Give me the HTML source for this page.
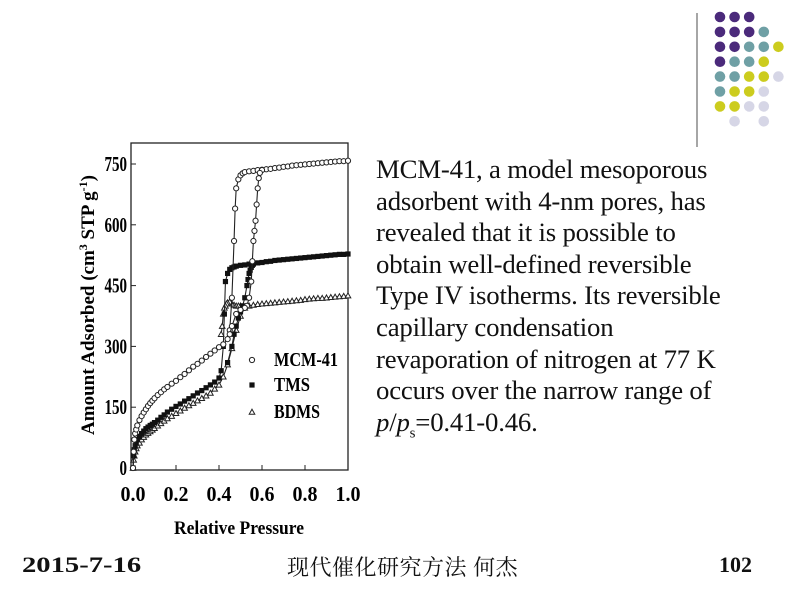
<!DOCTYPE html>
<html><head><meta charset="utf-8">
<style>
html,body{margin:0;padding:0;background:#fff;}
#slide{position:relative;width:800px;height:600px;overflow:hidden;background:#fff;font-family:"Liberation Serif","Noto Serif CJK SC",serif;}
.para{position:absolute;left:376px;top:154px;font-size:26.8px;line-height:31.6px;color:#111;white-space:nowrap;letter-spacing:-0.2px;}
.foot{position:absolute;top:552px;font-size:22px;font-weight:bold;color:#111;}
</style></head>
<body>
<div id="slide">
<svg id="deco" width="800" height="160" style="position:absolute;left:0;top:0"></svg>
<svg id="chart" width="370" height="545" style="position:absolute;left:0;top:0"></svg>
<div class="para">MCM-41, a model mesoporous<br>adsorbent with 4-nm pores, has<br>revealed that it is possible to<br>obtain well-defined reversible<br>Type IV isotherms. Its reversible<br>capillary condensation<br>revaporation of nitrogen at 77 K<br>occurs over the narrow range of<br><i>p</i>/<i>p</i><sub style="font-size:15px">s</sub>=0.41-0.46.</div>
<div class="foot" style="left:22px;transform:scaleX(1.3);transform-origin:0 0">2015-7-16</div>
<div class="foot" style="left:287px;font-weight:normal;font-family:'Noto Serif CJK SC','Noto Sans CJK SC',serif;font-size:22px;letter-spacing:0.5px;top:551px">现代催化研究方法 何杰</div>
<div class="foot" style="left:719px">102</div>
</div>
<script>
const dotRows=["PPP","PPPT","PPTTY","PTTY","TTYYL","TYYL","YYLL"," L L"];
const dotColors={P:"#4b2a7b",T:"#6fa0a5",Y:"#cccc1e",L:"#d6d6e6"};
const deco=document.getElementById('deco');
const NS="http://www.w3.org/2000/svg";
function mk(tag,attrs,parent){const e=document.createElementNS(NS,tag);for(const k in attrs)e.setAttribute(k,attrs[k]);parent.appendChild(e);return e;}
const vl=mk('line',{x1:697,y1:13,x2:697,y2:147,stroke:'#888','stroke-width':1.5},deco);


dotRows.forEach((row,r)=>{[...row].forEach((c,k)=>{if(c===' ')return;
 const d=mk('circle',{cx:720+k*14.6,cy:17+r*14.9,r:5.3,fill:dotColors[c]},deco);
 
 });});

const xTicks=[0,0.2,0.4,0.6,0.8,1.0];
const yTicks=[0,150,300,450,600,750];
const mcmAdsX=[0,0.003,0.006,0.01,0.015,0.02,0.03,0.04,0.05,0.06,0.07,0.08,0.09,0.1,0.115,0.13,0.145,0.16,0.18,0.2,0.22,0.24,0.26,0.28,0.3,0.32,0.34,0.36,0.38,0.4,0.42,0.44,0.45,0.46,0.47,0.475,0.48,0.49,0.5,0.51,0.52,0.54,0.56,0.58,0.6,0.62,0.64,0.66,0.68,0.7,0.72,0.74,0.76,0.78,0.8,0.82,0.84,0.86,0.88,0.9,0.92,0.94,0.96,0.98,1.0];
const mcmAdsY=[0,40,70,85,95,105,118,128,137,145,153,160,166,172,180,187,194,200,208,215,224,232,241,250,257,265,274,282,290,298,305,318,340,420,560,640,690,712,722,727,730,732,733,735,736,737,738,740,741,743,744,746,747,748,749,750,751,752,753,754,755,756,757,757,758];
const mcmDesX=[0.6,0.59,0.585,0.58,0.575,0.57,0.565,0.56,0.555,0.55,0.54,0.53,0.52,0.5,0.48,0.46,0.45];
const mcmDesY=[735,728,715,690,650,610,585,560,510,460,420,400,395,390,380,350,330];
const tmsAdsX=[0,0.003,0.006,0.01,0.015,0.02,0.03,0.04,0.05,0.06,0.07,0.08,0.09,0.1,0.115,0.13,0.145,0.16,0.18,0.2,0.22,0.24,0.26,0.28,0.3,0.32,0.34,0.36,0.38,0.4,0.41,0.42,0.425,0.43,0.44,0.45,0.46,0.47,0.48,0.5,0.52,0.54,0.56,0.58,0.6,0.62,0.64,0.66,0.68,0.7,0.72,0.74,0.76,0.78,0.8,0.82,0.84,0.86,0.88,0.9,0.92,0.94,0.96,0.98,1.0];
const tmsAdsY=[0,30,45,55,62,70,78,85,91,97,101,105,108,112,118,125,131,138,145,152,158,165,171,178,185,191,198,205,212,222,240,300,380,460,480,490,494,496,498,500,501,503,504,506,507,509,510,512,513,514,515,516,517,518,519,520,521,522,523,524,525,526,527,527,528];
const tmsDesX=[0.56,0.555,0.55,0.545,0.54,0.535,0.53,0.52,0.51,0.5,0.49,0.48,0.47,0.46,0.44];
const tmsDesY=[503,500,495,488,480,465,450,420,400,385,370,350,330,300,260];
const bdAdsX=[0,0.003,0.006,0.01,0.015,0.02,0.03,0.04,0.05,0.06,0.07,0.08,0.09,0.1,0.115,0.13,0.145,0.16,0.18,0.2,0.22,0.24,0.26,0.28,0.3,0.32,0.34,0.36,0.38,0.4,0.42,0.44,0.46,0.48,0.5,0.52,0.54,0.56,0.58,0.6,0.62,0.64,0.66,0.68,0.7,0.72,0.74,0.76,0.78,0.8,0.82,0.84,0.86,0.88,0.9,0.92,0.94,0.96,0.98,1.0];
const bdAdsY=[0,20,30,40,48,55,62,70,76,82,86,90,94,98,104,110,116,122,128,135,141,148,154,160,166,172,178,185,195,205,225,255,295,340,375,395,400,402,404,405,406,407,408,409,410,411,412,413,414,416,417,418,419,419,420,421,422,423,424,425];
const bdDesX=[0.5,0.49,0.48,0.47,0.46,0.45,0.44,0.435,0.43,0.425,0.42,0.415,0.41];
const bdDesY=[400,400,400,402,405,410,408,405,400,395,380,350,330];

const chart=document.getElementById('chart');
const L=133,R=348,T=164,B=468;
const sx=v=>L+v*(R-L);
const sy=v=>B-v/750*(B-T);
const frame=mk('rect',{x:131,y:143,width:217,height:327,fill:'none',stroke:'#222','stroke-width':1.3},chart);


xTicks.forEach(v=>{
 const t=mk('line',{x1:sx(v),y1:470,x2:sx(v),y2:465,stroke:'#222'},chart);
 
 
 const tx=mk('text',{x:sx(v),y:501,'text-anchor':'middle','font-size':21,'font-weight':'bold','font-family':'Liberation Serif',textLength:25,lengthAdjust:'spacingAndGlyphs'},chart);
 tx.textContent=v.toFixed(1);
 
 
});
yTicks.forEach(v=>{
 const t=mk('line',{x1:131,y1:sy(v),x2:136,y2:sy(v),stroke:'#222'},chart);
 
 
 const s=String(v);
 const tx=mk('text',{x:127,y:sy(v)+7,'text-anchor':'end','font-size':21,'font-weight':'bold','font-family':'Liberation Serif',textLength:s.length*7.5,lengthAdjust:'spacingAndGlyphs'},chart);
 tx.textContent=s;
 
 
});
const xt=mk('text',{x:239,y:534,'text-anchor':'middle','font-size':19,'font-weight':'bold','font-family':'Liberation Serif',textLength:130,lengthAdjust:'spacingAndGlyphs'},chart);
xt.textContent='Relative Pressure';


const yt=mk('text',{x:0,y:0,'text-anchor':'middle','font-size':19,'font-weight':'bold','font-family':'Liberation Serif',transform:'translate(94,305) rotate(-90)'},chart);
yt.innerHTML='Amount Adsorbed (cm<tspan dy="-7" font-size="12">3</tspan><tspan dy="7"> STP g</tspan><tspan dy="-7" font-size="12">-1</tspan><tspan dy="7">)</tspan>';



function marker(type,x,y,name){
 let e;
 if(type==='o')e=mk('circle',{cx:x,cy:y,r:2.6,fill:'#fff',stroke:'#222','stroke-width':1},chart);
 else if(type==='s')e=mk('rect',{x:x-2.6,y:y-2.6,width:5.2,height:5.2,fill:'#111'},chart);
 else e=mk('path',{d:`M${x},${y-2.8}L${x+2.8},${y+2.2}L${x-2.8},${y+2.2}Z`,fill:'#fff',stroke:'#222','stroke-width':1},chart);
 
 
}
function series(xs,ys,type,name){
 const p=mk('polyline',{points:xs.map((x,i)=>sx(x)+','+sy(ys[i])).join(' '),fill:'none',stroke:'#222','stroke-width':1.1},chart);
 
 
 xs.forEach((x,i)=>marker(type,sx(x),sy(ys[i]),name+'-point'));
}
series(bdAdsX,bdAdsY,'t','bdms-adsorption');
series(bdDesX,bdDesY,'t','bdms-desorption');
series(tmsAdsX,tmsAdsY,'s','tms-adsorption');
series(tmsDesX,tmsDesY,'s','tms-desorption');
series(mcmAdsX,mcmAdsY,'o','mcm41-adsorption');
series(mcmDesX,mcmDesY,'o','mcm41-desorption');

const legend=[['o','MCM-41',366,64],['s','TMS',391,36],['t','BDMS',418,46]];
legend.forEach(([t,lab,y,w])=>{
 marker(t,252,y-6,'legend-marker');
 const tx=mk('text',{x:274,y:y,'font-size':20,'font-weight':'bold','font-family':'Liberation Serif',textLength:w,lengthAdjust:'spacingAndGlyphs'},chart);
 tx.textContent=lab;
 
 
});
</script>
</body></html>
